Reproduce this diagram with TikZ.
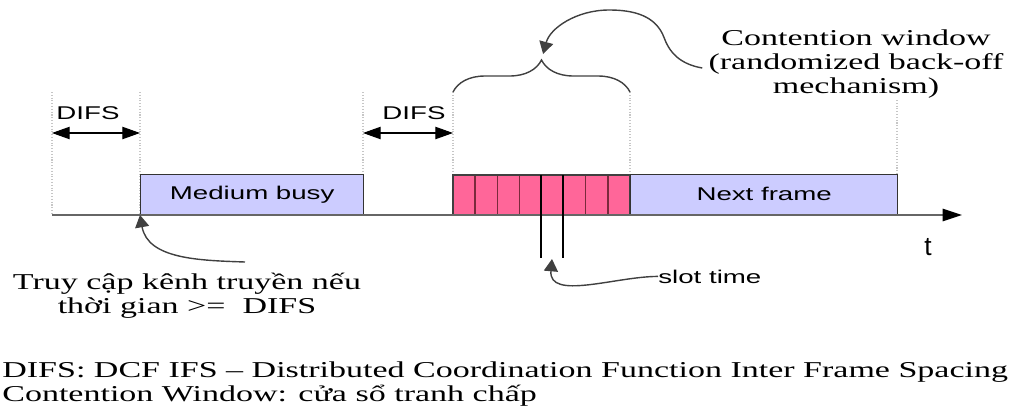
\documentclass[tikz,border=0pt]{standalone}
\usepackage{fontspec}
\usetikzlibrary{arrows.meta,decorations.pathreplacing,positioning}
\newfontfamily\notefont{Liberation Serif}[FakeStretch=1.5]
\newfontfamily\boxfont{Liberation Sans}[FakeStretch=1.5]
\newfontfamily\axisfont{Liberation Sans}
\newcommand\notesize{\fontsize{12.9}{13.8}\selectfont\lineskiplimit=-20pt\relax}
\definecolor{slotpink}{HTML}{FF6699}
\definecolor{slotedge}{HTML}{7A2A3C}
\definecolor{framelav}{HTML}{CCCCFF}
\tikzset{
  framebox/.style={draw=black!80, line width=0.8pt, fill=framelav, minimum height=0.8cm,
    inner sep=0pt, anchor=south west, font=\boxfont\fontsize{10.5}{12}\selectfont},
  slotbox/.style={draw=slotedge, line width=0.8pt, fill=slotpink},
  guide/.style={gray!45, densely dotted, line width=0.6pt},
  span/.style={black, line width=0.6pt, {Triangle[length=10pt,width=7pt]}-{Triangle[length=10pt,width=7pt]}},
  pointer/.style={black!75, line width=0.8pt, -{Triangle[length=7pt,width=8pt]}},
  timeaxis/.style={black!60, line width=1.1pt, -{Triangle[length=11pt,width=7pt,black]}},
  sanslbl/.style={inner sep=0pt, font=\boxfont\fontsize{10.5}{12}\selectfont},
  note/.style={inner sep=0pt, align=center, font=\notefont\notesize},
}
\begin{document}
\begin{tikzpicture}[x=0.02cm, y=0.02cm]
\useasboundingbox (0,0) rectangle (1024,-406);

% dotted guides
\foreach \x/\top in {52/92,140/92,363/92,453/92,630/92,897/100}{
  \draw[guide] (\x,-\top) -- (\x,-215);
}

% DIFS spans
\coordinate (difsAl) at (52,-133);
\coordinate (difsAr) at (140,-133);
\coordinate (difsBl) at (363,-133);
\coordinate (difsBr) at (453,-133);
\draw[span] (difsAl) -- (difsAr);
\draw[span] (difsBl) -- (difsBr);
\node[sanslbl] (difsA) at (88,-113) {DIFS};
\node[sanslbl] (difsB) at (414,-113) {DIFS};

% frames on the medium
\node[framebox, minimum width=4.46cm] (busy) at (140,-215) {Medium busy};
\foreach \k in {0,...,7}{
  \draw[slotbox] ({453+22.125*\k},-215) rectangle +(22.125,40);
}
\draw[black!75, line width=0.8pt] (453,-215) rectangle (630,-175);
\node[framebox, minimum width=5.34cm] (next) at (630,-215) {Next frame};

% time axis
\coordinate (t0) at (52,-215);
\coordinate (t1) at (962,-215);
\draw[timeaxis] (t0) -- (t1);
\node[font=\axisfont\fontsize{15}{18}\selectfont, inner sep=0pt] (tlbl) at (928,-247) {t};

% contention window brace
\draw[black!75, line width=0.8pt, decorate, decoration={brace, amplitude=0.64cm}]
  (453,-92) -- (630,-92);
\coordinate (bracetip) at (541.5,-60);
\node[note] (cwtext) at (856,-64) {Contention window\\(randomized back-off\\mechanism)};
\draw[pointer, shorten >=3.5pt] (cwtext.west) ++(-6,-4) to[out=170,in=-70] ++(-38,30)
  to[out=110,in=0] ++(-55,28) to[out=180,in=75] (bracetip);

% slot time
\coordinate (slotA) at (541,-175);
\coordinate (slotB) at (563,-175);
\draw[black, line width=0.7pt] (slotA) -- ++(0,-83);
\draw[black, line width=0.7pt] (slotB) -- ++(0,-83);
\node[sanslbl, anchor=base west] (slotlbl) at (658,-283) {slot time};
\coordinate (slottip) at (552,-259);
\draw[pointer] (slotlbl.west) to[out=180,in=-95] (slottip);

% access condition
\node[note] (access) at (187,-296) {Truy cập kênh truyền nếu\\thời gian >=\ \ DIFS};
\coordinate (accesstail) at (245,-262);
\draw[pointer] (accesstail) to[out=178,in=-80] (busy.south west);

% legend
\node[note, align=left, anchor=north west] (legend) at (2,-361)
  {DIFS: DCF IFS – Distributed Coordination Function Inter Frame Spacing\\
   Contention Window: cửa sổ tranh chấp};
\end{tikzpicture}
\end{document}
